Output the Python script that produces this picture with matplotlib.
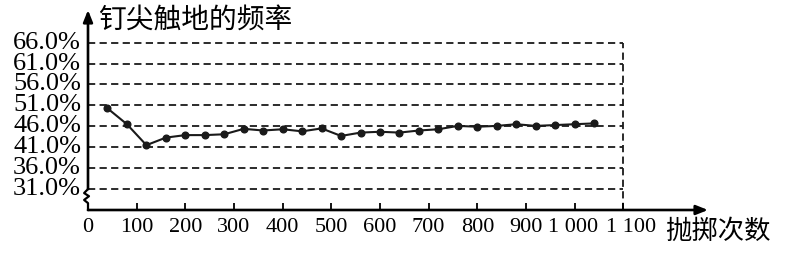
import matplotlib.pyplot as plt
from matplotlib.transforms import ScaledTranslation

# Data
throws = [40, 80, 120, 160, 200, 240, 280, 320, 360, 400, 440, 480, 520,
          560, 600, 640, 680, 720, 760, 800, 840, 880, 920, 960, 1000, 1040]
freq = [50.3, 46.5, 41.5, 43.3, 43.9, 43.9, 44.1, 45.4, 45.0, 45.3, 44.8, 45.5, 43.7,
        44.5, 44.7, 44.5, 45.0, 45.3, 46.1, 45.9, 46.1, 46.5, 46.1, 46.3, 46.5, 46.7]

y_ticks = [31, 36, 41, 46, 51, 56, 61, 66]
y_labels = ["31.0%", "36.0%", "41.0%", "46.0%", "51.0%", "56.0%", "61.0%", "66.0%"]
x_ticks = [0, 100, 200, 300, 400, 500, 600, 700, 800, 900, 1000, 1100]
x_labels = ["0", "100", "200", "300", "400", "500", "600", "700", "800", "900",
            "1 000", "1 100"]

serif = "Liberation Serif"
cjk = ["Noto Sans CJK SC", "DejaVu Sans"]

fig = plt.figure(figsize=(7.9, 2.59), dpi=100)
ax = fig.add_axes([88 / 790, 49 / 259, 620 / 790, 200 / 259])
x_max, y_min, y_max = 1274, 26, 73.8
ax.set_xlim(0, x_max)
ax.set_ylim(y_min, y_max)
for s in ax.spines.values():
    s.set_visible(False)

# dashed grid lines and right border
ax.hlines(y_ticks, 0, 1100, colors="#1a1a1a", linewidth=1.3,
          linestyles=(0, (4.0, 2.4)), zorder=1)
ax.vlines(1100, y_min, 66, colors="#1a1a1a", linewidth=1.3,
          linestyles=(0, (4.0, 2.4)), zorder=1)

# data line
ax.plot(throws, freq, color="#1a1a1a", linewidth=1.5, marker="o",
        markersize=4.8, zorder=3)

# axes with arrows
arrow = dict(arrowstyle="-|>,head_length=0.5,head_width=0.2", lw=1.9,
             color="black", mutation_scale=14, shrinkA=0, shrinkB=0)
ax.annotate("", xy=(x_max, y_min), xytext=(0, y_min), arrowprops=arrow,
            annotation_clip=False)
ax.annotate("", xy=(0, y_max), xytext=(0, 31), arrowprops=arrow,
            annotation_clip=False)
# axis break zigzag
ax.plot([0, -8, 2, -8, 0, 0], [31, 30.05, 29.3, 28.4, 27.65, y_min],
        color="black", linewidth=1.6, clip_on=False, zorder=4)

ax.set_xticks(x_ticks)
ax.set_xticklabels(x_labels, fontfamily=serif, fontsize=16)
ax.tick_params(axis="x", direction="in", length=5, width=1.3, pad=6)
ax.set_yticks(y_ticks)
ax.set_yticklabels(y_labels, fontfamily=serif, fontsize=19)
ax.tick_params(axis="y", length=0, pad=5)
for lbl in ax.get_yticklabels():
    lbl.set_verticalalignment("center")

# nudge the two crowded labels apart, as in the original
xl = ax.get_xticklabels()
xl[-2].set_transform(xl[-2].get_transform() + ScaledTranslation(-2 / 100, 0, fig.dpi_scale_trans))
xl[-1].set_transform(xl[-1].get_transform() + ScaledTranslation(8 / 100, 0, fig.dpi_scale_trans))

fig.text(98 / 790, 1 - 20 / 259, "钉尖触地的频率", family=cjk, fontsize=20,
         ha="left", va="center")
fig.text(665 / 790, 1 - 231 / 259, "抛掷次数", family=cjk, fontsize=19,
         ha="left", va="center")

fig.savefig("out.png", dpi=100)
